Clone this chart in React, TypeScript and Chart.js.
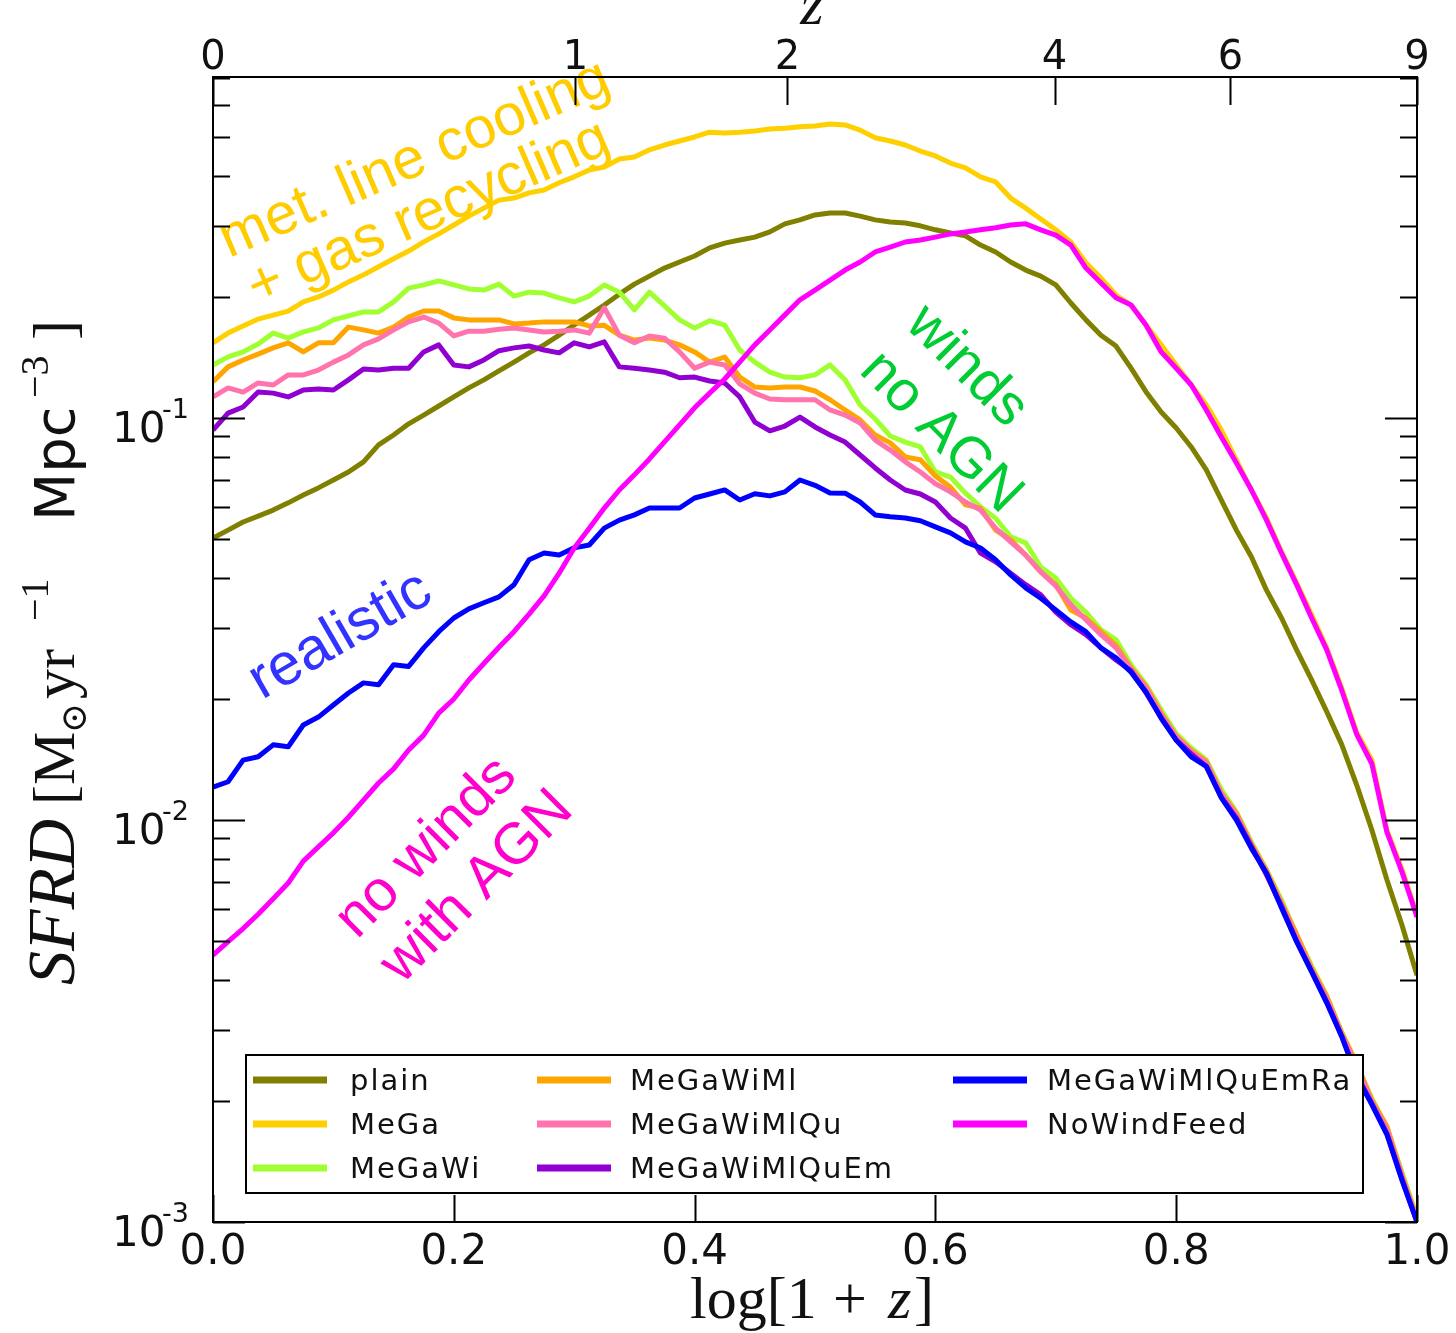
import React, { useEffect, useRef } from "react";
import { Chart, registerables } from "chart.js";

Chart.register(...registerables);

// x: log[1+z]
const logOnePlusZ = [
  0.0, 0.0125, 0.025, 0.0375, 0.05, 0.0625, 0.075, 0.0875, 0.1, 0.1125, 0.125, 0.1375, 0.15,
  0.1625, 0.175, 0.1875, 0.2, 0.2125, 0.225, 0.2375, 0.25, 0.2625, 0.275, 0.2875, 0.3, 0.3125,
  0.325, 0.3375, 0.35, 0.3625, 0.375, 0.3875, 0.4, 0.4125, 0.425, 0.4375, 0.45, 0.4625, 0.475,
  0.4875, 0.5, 0.5125, 0.525, 0.5375, 0.55, 0.5625, 0.575, 0.5875, 0.6, 0.6125, 0.625, 0.6375,
  0.65, 0.6625, 0.675, 0.6875, 0.7, 0.7125, 0.725, 0.7375, 0.75, 0.7625, 0.775, 0.7875, 0.8,
  0.8125, 0.825, 0.8375, 0.85, 0.8625, 0.875, 0.8875, 0.9, 0.9125, 0.925, 0.9375, 0.95, 0.9625,
  0.975, 0.9875, 1.0,
];

// SFRD [Msun / yr / Mpc^3]
const plain = [
  0.0503, 0.0526, 0.0551, 0.057, 0.059, 0.0615, 0.0643, 0.067, 0.0701, 0.0734, 0.0778, 0.0857,
  0.0907, 0.0967, 0.1017, 0.1071, 0.1128, 0.1188, 0.1244, 0.1309, 0.1377, 0.1452, 0.152, 0.1607,
  0.1703, 0.1803, 0.191, 0.2032, 0.2153, 0.2254, 0.236, 0.2443, 0.2529, 0.2649, 0.2723, 0.2772,
  0.2818, 0.2903, 0.304, 0.311, 0.32, 0.3236, 0.3236, 0.3177, 0.311, 0.3073, 0.3055, 0.3006,
  0.2938, 0.2885, 0.2838, 0.2692, 0.2588, 0.2443, 0.2333, 0.2254, 0.2143, 0.1932, 0.1754, 0.1607,
  0.151, 0.133, 0.1161, 0.1035, 0.0944, 0.0847, 0.0743, 0.0625, 0.0526, 0.0451, 0.0373, 0.0318,
  0.0265, 0.0223, 0.0186, 0.0154, 0.0122, 0.00944, 0.0071, 0.00548, 0.00411,
];
const MeGa = [
  0.1538, 0.1626, 0.1694, 0.1762, 0.1803, 0.1845, 0.1945, 0.2, 0.208, 0.218, 0.227, 0.2377,
  0.249, 0.2602, 0.2742, 0.287, 0.302, 0.3177, 0.3327, 0.3483, 0.3524, 0.363, 0.369, 0.3846,
  0.398, 0.414, 0.4207, 0.4406, 0.4457, 0.4645, 0.4775, 0.4887, 0.5, 0.514, 0.5117, 0.514,
  0.5176, 0.5236, 0.526, 0.53, 0.5322, 0.5387, 0.5358, 0.52, 0.4977, 0.4887, 0.4775, 0.4613,
  0.4487, 0.4305, 0.4188, 0.398, 0.3864, 0.3524, 0.3327, 0.3126, 0.2938, 0.2742, 0.2432, 0.2228,
  0.2023, 0.191, 0.1703, 0.152, 0.1355, 0.1208, 0.1078, 0.0933, 0.0786, 0.0662, 0.0564, 0.0465,
  0.0389, 0.0324, 0.0268, 0.0213, 0.0165, 0.0141, 0.00944, 0.00755, 0.0058,
];
const MeGaWi = [
  0.1355, 0.1419, 0.146, 0.1528, 0.1626, 0.158, 0.1637, 0.1675, 0.1754, 0.1795, 0.1836, 0.1836,
  0.1945, 0.2104, 0.2143, 0.2193, 0.2143, 0.2094, 0.208, 0.2153, 0.201, 0.2056, 0.2045, 0.199,
  0.1945, 0.201, 0.2143, 0.2056, 0.1858, 0.2056, 0.19, 0.1754, 0.1673, 0.1746, 0.1703, 0.1476,
  0.1377, 0.13, 0.1264, 0.1259, 0.128, 0.1355, 0.1244, 0.1077, 0.0994, 0.0902, 0.0871, 0.0847,
  0.0734, 0.0713, 0.065, 0.0601, 0.0563, 0.0506, 0.0489, 0.0426, 0.04, 0.0356, 0.0329, 0.0297,
  0.0281, 0.0243, 0.0217, 0.0188, 0.0164, 0.0151, 0.0141, 0.0119, 0.01047, 0.00881, 0.00751,
  0.00632, 0.00518, 0.00434, 0.00365, 0.00297, 0.00246, 0.00203, 0.00172, 0.00133, 0.00103,
];
const MeGaWiMl = [
  0.123, 0.134, 0.1394, 0.1442, 0.1494, 0.1538, 0.146, 0.1538, 0.1538, 0.1683, 0.1656, 0.1626,
  0.1683, 0.1783, 0.1845, 0.1845, 0.1774, 0.1754, 0.1754, 0.1754, 0.1714, 0.1722, 0.1734, 0.1734,
  0.1734, 0.1694, 0.17, 0.1607, 0.1563, 0.158, 0.1563, 0.152, 0.146, 0.1377, 0.1418, 0.1264,
  0.1194, 0.1188, 0.1194, 0.1194, 0.1167, 0.111, 0.1047, 0.0989, 0.0907, 0.0867, 0.08, 0.0787,
  0.0717, 0.0673, 0.0608, 0.0597, 0.0526, 0.0498, 0.0456, 0.0414, 0.0385, 0.0333, 0.0318, 0.0294,
  0.0272, 0.0239, 0.0215, 0.01845, 0.0162, 0.0149, 0.014, 0.01167, 0.0104, 0.00871, 0.0075,
  0.00622, 0.0052, 0.00428, 0.00365, 0.00295, 0.00248, 0.00201, 0.00173, 0.00131, 0.00102,
];
const MeGaWiMlQu = [
  0.1128, 0.1188, 0.116, 0.1222, 0.1208, 0.128, 0.128, 0.1316, 0.1377, 0.1435, 0.152, 0.1573,
  0.1656, 0.1734, 0.1783, 0.1722, 0.16, 0.1644, 0.1644, 0.1663, 0.1675, 0.1656, 0.1637, 0.1644,
  0.1656, 0.1626, 0.188, 0.1607, 0.1538, 0.16, 0.158, 0.146, 0.133, 0.1377, 0.1355, 0.1216,
  0.1153, 0.1115, 0.111, 0.111, 0.111, 0.1047, 0.1017, 0.0972, 0.0881, 0.0832, 0.0778, 0.0734,
  0.0686, 0.0655, 0.0618, 0.059, 0.0532, 0.0492, 0.0456, 0.0414, 0.0382, 0.0343, 0.0315, 0.0289,
  0.0268, 0.0237, 0.0213, 0.0183, 0.0161, 0.0148, 0.0139, 0.0116, 0.0103, 0.00866, 0.0074,
  0.00618, 0.0051, 0.00425, 0.0036, 0.00293, 0.00245, 0.00199, 0.0017, 0.0013, 0.00101,
];
const MeGaWiMlQuEm = [
  0.0933, 0.1028, 0.1065, 0.116, 0.1153, 0.1128, 0.1174, 0.118, 0.1174, 0.1244, 0.1324, 0.1316,
  0.133, 0.133, 0.146, 0.152, 0.1355, 0.134, 0.1394, 0.147, 0.1494, 0.151, 0.1476, 0.1452,
  0.1538, 0.1502, 0.1546, 0.134, 0.133, 0.1316, 0.13, 0.1259, 0.1264, 0.1236, 0.1222, 0.1128,
  0.0977, 0.0929, 0.0955, 0.1005, 0.095, 0.0907, 0.0871, 0.0809, 0.0751, 0.0701, 0.0662, 0.0647,
  0.0618, 0.0564, 0.0532, 0.0461, 0.0439, 0.0411, 0.0385, 0.0363, 0.0329, 0.0306, 0.0289, 0.0268,
  0.025, 0.0235, 0.0207, 0.018, 0.0158, 0.0146, 0.0136, 0.0114, 0.0101, 0.0086, 0.0073, 0.0061,
  0.005, 0.0042, 0.00353, 0.0029, 0.00232, 0.00197, 0.00166, 0.00128, 0.001,
];
const MeGaWiMlQuEmRa = [
  0.01207, 0.01245, 0.01409, 0.01436, 0.01538, 0.01521, 0.01723, 0.01803, 0.01932, 0.0207,
  0.02193, 0.0217, 0.02432, 0.0241, 0.0268, 0.0294, 0.0318, 0.0335, 0.0347, 0.0359, 0.03846,
  0.0444, 0.04615, 0.0456, 0.04753, 0.0483, 0.0532, 0.0557, 0.05741, 0.0597, 0.0597, 0.0597,
  0.06324, 0.0647, 0.06622, 0.0625, 0.0648, 0.064, 0.0655, 0.0701, 0.068, 0.0651, 0.065, 0.0618,
  0.0574, 0.0568, 0.0564, 0.0555, 0.0536, 0.0518, 0.0492, 0.0475, 0.0444, 0.0407, 0.0378, 0.0356,
  0.0333, 0.0311, 0.0294, 0.0268, 0.0253, 0.0233, 0.0208, 0.0179, 0.0158, 0.01436, 0.0136,
  0.01135, 0.01, 0.0085, 0.00738, 0.00604, 0.00498, 0.00419, 0.00351, 0.00289, 0.0023, 0.00196,
  0.00165, 0.00127, 0.001,
];
const NoWindFeed = [
  0.00461, 0.00498, 0.00537, 0.00583, 0.00637, 0.00697, 0.0079, 0.00857, 0.00929, 0.01016,
  0.0112, 0.01236, 0.0134, 0.01493, 0.01626, 0.01845, 0.02, 0.0223, 0.0245, 0.0269, 0.0294,
  0.0325, 0.0361, 0.0411, 0.0475, 0.0532, 0.0597, 0.0662, 0.0722, 0.0791, 0.0872, 0.0961, 0.106,
  0.1153, 0.125, 0.1377, 0.152, 0.1656, 0.1805, 0.1968, 0.208, 0.2203, 0.2333, 0.2443, 0.2588,
  0.266, 0.274, 0.2772, 0.2818, 0.287, 0.2903, 0.2938, 0.2972, 0.302, 0.304, 0.2938, 0.2851,
  0.2692, 0.236, 0.2168, 0.199, 0.191, 0.17, 0.146, 0.133, 0.1208, 0.1047, 0.0897, 0.0773,
  0.0662, 0.0557, 0.0461, 0.0385, 0.0318, 0.0265, 0.021, 0.0163, 0.0138, 0.00933, 0.00743,
  0.00574,
];

const seriesNames = [
  "plain",
  "MeGa",
  "MeGaWi",
  "MeGaWiMl",
  "MeGaWiMlQu",
  "MeGaWiMlQuEm",
  "MeGaWiMlQuEmRa",
  "NoWindFeed",
];
const seriesValues = [plain, MeGa, MeGaWi, MeGaWiMl, MeGaWiMlQu, MeGaWiMlQuEm, MeGaWiMlQuEmRa, NoWindFeed];
const seriesColors = [
  "#808000",
  "#ffd000",
  "#a0ff30",
  "#ffa500",
  "#ff74ac",
  "#9000d0",
  "#0000ff",
  "#ff00ff",
];

const xTickValues = [0.0, 0.2, 0.4, 0.6, 0.8, 1.0];
const xTickLabels = ["0.0", "0.2", "0.4", "0.6", "0.8", "1.0"];
const zTickValues = [0, 1, 2, 4, 6, 9];
const yDecades = [-3, -2, -1];

const Y_MIN = 0.001;
const Y_MAX = 0.705;

const SANS = "'DejaVu Sans', sans-serif";
const SERIF = "'Liberation Serif', 'DejaVu Serif', serif";
const ANNO = "'Liberation Sans', Arial, sans-serif";

function rotText(ctx: CanvasRenderingContext2D, text: string, x: number, y: number, deg: number, color: string, size: number) {
  ctx.save();
  ctx.translate(x, y);
  ctx.rotate((deg * Math.PI) / 180);
  ctx.fillStyle = color;
  ctx.font = `${size}px ${ANNO}`;
  ctx.textAlign = "left";
  ctx.textBaseline = "alphabetic";
  ctx.fillText(text, 0, 0);
  ctx.restore();
}

const decorPlugin = {
  id: "decor",
  afterDatasetsDraw(chart: any) {
    const ctx: CanvasRenderingContext2D = chart.ctx;
    const xs = chart.scales.x;
    const ys = chart.scales.y;
    const { left, right, top, bottom } = chart.chartArea;

    // annotations
    rotText(ctx, "met. line cooling", 229, 258, -23.5, "#ffcc00", 58);
    rotText(ctx, "+ gas recycling", 257, 306, -23.5, "#ffcc00", 58);
    rotText(ctx, "realistic", 262, 700, -30, "#3333ff", 59);
    rotText(ctx, "no winds", 357, 940, -45, "#ff00cc", 58);
    rotText(ctx, "with AGN", 402, 985, -45, "#ff00cc", 58);
    rotText(ctx, "winds", 904, 326, 45, "#00cc33", 57);
    rotText(ctx, "no AGN", 858, 372, 45, "#00cc33", 57);

    // legend
    const lx0 = 246, ly0 = 1055, lx1 = 1363, ly1 = 1193;
    ctx.save();
    ctx.fillStyle = "#ffffff";
    ctx.fillRect(lx0, ly0, lx1 - lx0, ly1 - ly0);
    ctx.strokeStyle = "#000";
    ctx.lineWidth = 2;
    ctx.strokeRect(lx0, ly0, lx1 - lx0, ly1 - ly0);
    const colX = [253, 537, 953];
    const textX = [350, 630, 1047];
    const rowY = [1080, 1124, 1168];
    ctx.font = `29px ${SANS}`;
    (ctx as any).letterSpacing = "2px";
    ctx.textBaseline = "middle";
    ctx.textAlign = "left";
    seriesNames.forEach((name, i) => {
      const c = Math.floor(i / 3);
      const r = i % 3;
      const x = colX[c];
      const y = rowY[r];
      ctx.strokeStyle = seriesColors[i];
      ctx.lineWidth = 7;
      ctx.beginPath();
      ctx.moveTo(x, y);
      ctx.lineTo(x + 74, y);
      ctx.stroke();
      ctx.fillStyle = "#111";
      ctx.fillText(name, textX[c], y + 2);
    });
    (ctx as any).letterSpacing = "0px";
    ctx.restore();

    // frame and ticks
    ctx.save();
    ctx.strokeStyle = "#000";
    ctx.lineWidth = 2;
    ctx.strokeRect(left, top, right - left, bottom - top);
    ctx.beginPath();
    xTickValues.forEach((v) => {
      const px = Math.round(xs.getPixelForValue(v)) + 0.5;
      ctx.moveTo(px, bottom);
      ctx.lineTo(px, bottom - 27);
    });
    zTickValues.forEach((z) => {
      const px = Math.round(xs.getPixelForValue(Math.log10(1 + z))) + 0.5;
      ctx.moveTo(px, top);
      ctx.lineTo(px, top + 28);
    });
    yDecades.forEach((d) => {
      for (let m = 1; m <= 9; m++) {
        const v = m * Math.pow(10, d);
        if (v > Y_MAX) continue;
        const py = Math.round(ys.getPixelForValue(v)) + 0.5;
        const len = m === 1 ? 32 : 17;
        ctx.moveTo(left, py);
        ctx.lineTo(left + len, py);
        ctx.moveTo(right, py);
        ctx.lineTo(right - len, py);
      }
    });
    ctx.stroke();

    // x tick labels
    ctx.fillStyle = "#111";
    ctx.font = `42px ${SANS}`;
    ctx.textAlign = "center";
    ctx.textBaseline = "alphabetic";
    xTickValues.forEach((v, i) => {
      ctx.fillText(xTickLabels[i], xs.getPixelForValue(v), 1264);
    });
    // top z labels
    ctx.font = `40px ${SANS}`;
    zTickValues.forEach((z) => {
      ctx.fillText(String(z), xs.getPixelForValue(Math.log10(1 + z)), 69);
    });
    // y tick labels 10^d
    yDecades.forEach((d) => {
      const py = ys.getPixelForValue(Math.pow(10, d));
      ctx.textAlign = "left";
      ctx.font = `42px ${SANS}`;
      ctx.fillText("10", 112, py + 24);
      ctx.font = `27px ${SANS}`;
      ctx.fillText(String(d), 162, py);
    });

    // top axis label z
    ctx.font = `italic 60px ${SERIF}`;
    ctx.textAlign = "center";
    ctx.fillText("z", 812, 24);

    // x axis label log[1+z]
    ctx.textAlign = "left";
    ctx.font = `60px ${SERIF}`;
    ctx.fillText("log[1", 690, 1318);
    ctx.fillText("+", 833, 1318);
    ctx.font = `italic 60px ${SERIF}`;
    ctx.fillText("z", 888, 1318);
    ctx.font = `60px ${SERIF}`;
    ctx.fillText("]", 914, 1318);

    // y axis label
    ctx.translate(74, 985);
    ctx.rotate(-Math.PI / 2);
    const pieces: [string, number, string, number][] = [
      ["SFRD", 0, `italic 68px ${SERIF}`, 0],
      ["[", 180, `60px ${SERIF}`, 0],
      ["M", 200, `60px ${SERIF}`, 0],
      ["\u2299", 252, `36px 'DejaVu Serif', serif`, 12],
      ["yr", 286, `60px ${SERIF}`, 0],
      ["\u22121", 364, `40px ${SERIF}`, -26],
      ["Mpc", 464, `56px ${SANS}`, 0],
      ["\u22123", 587, `40px ${SERIF}`, -26],
      ["]", 645, `60px ${SERIF}`, 0],
    ];
    pieces.forEach(([t, x, f, dy]) => {
      ctx.font = f;
      ctx.fillText(t, x, dy);
    });
    ctx.restore();
  },
};

export default function App() {
  const canvasRef = useRef<HTMLCanvasElement | null>(null);

  useEffect(() => {
    const canvas = canvasRef.current;
    if (!canvas) return;
    const datasets = seriesNames.map((name, i) => ({
      label: name,
      data: logOnePlusZ.map((x, j) => ({ x, y: seriesValues[i][j] })),
      borderColor: seriesColors[i],
      backgroundColor: seriesColors[i],
      borderWidth: 5,
      pointRadius: 0,
      fill: false,
      tension: 0,
      borderJoinStyle: "round" as const,
      order: seriesNames.length - 1 - i,
    }));
    const chart = new Chart(canvas, {
      type: "line",
      data: { datasets },
      options: {
        responsive: false,
        animation: false,
        devicePixelRatio: 1,
        layout: { padding: { left: 213, right: 39, top: 77, bottom: 111 } },
        plugins: {
          legend: { display: false },
          tooltip: { enabled: false },
          title: { display: false },
        },
        scales: {
          x: { type: "linear", min: 0, max: 1, display: false },
          y: { type: "logarithmic", min: Y_MIN, max: Y_MAX, display: false },
        },
      },
      plugins: [decorPlugin],
    });
    return () => chart.destroy();
  }, []);

  return (
    <div style={{ position: "absolute", left: 0, top: 0, width: 1456, height: 1333, background: "#fff" }}>
      <canvas ref={canvasRef} width={1456} height={1333} style={{ display: "block" }} />
    </div>
  );
}
